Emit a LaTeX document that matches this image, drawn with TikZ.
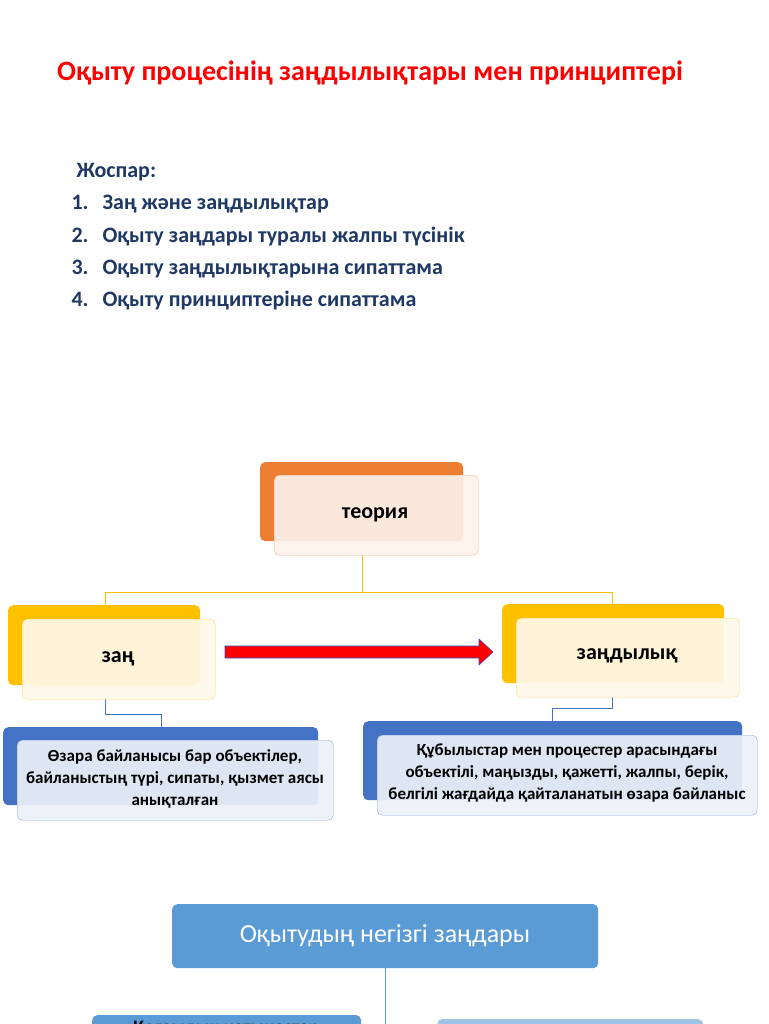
\documentclass[tikz,border=0pt]{standalone}
\usepackage{fontspec}
\setmainfont{Carlito}
\usetikzlibrary{arrows.meta}

\begin{document}
\begin{tikzpicture}[x=1pt,y=-1pt,
    backbox/.style={shape=rectangle,rounded corners=5pt,anchor=north west,inner sep=0pt},
    frontbox/.style={shape=rectangle,draw,rounded corners=5pt,anchor=north west,inner sep=0pt,fill opacity=0.92},
    boxlabel/.style={font=\bfseries\fontsize{22}{26}\selectfont},
    smalltext/.style={font=\bfseries\fontsize{17}{22}\selectfont,align=center},
    plantext/.style={anchor=west,text=plannavy,font=\bfseries\fontsize{22}{26}\selectfont}]
    \definecolor{plannavy}{RGB}{31,56,100}
    \definecolor{teoriaback}{RGB}{237,125,49}
    \definecolor{teoriafront}{RGB}{253,242,235}
    \definecolor{teorialine}{RGB}{244,177,131}
    \definecolor{zanback}{RGB}{255,192,0}
    \definecolor{zanfront}{RGB}{255,249,234}
    \definecolor{zanline}{RGB}{255,217,102}
    \definecolor{blueback}{RGB}{68,114,196}
    \definecolor{bluefront}{RGB}{236,240,248}
    \definecolor{blueline}{RGB}{143,170,220}
    \definecolor{midblue}{RGB}{91,155,213}
    \definecolor{lightblue}{RGB}{157,195,230}
    \clip (0,0) rectangle (768,1024);
    \fill[white] (0,0) rectangle (768,1024);
    % title and plan
    \node[text=red,font=\bfseries\fontsize{28}{32}\selectfont] (title) at (370,73) {Оқыту процесінің заңдылықтары мен принциптері};
    \node[plantext] (plan) at (73,172) {Жоспар:};
    \node[plantext] (p1) at (68,204) {1.\hspace{14pt}Заң және заңдылықтар};
    \node[plantext] (p2) at (68,237) {2.\hspace{14pt}Оқыту заңдары туралы жалпы түсінік};
    \node[plantext] (p3) at (68,269) {3.\hspace{14pt}Оқыту заңдылықтарына сипаттама};
    \node[plantext] (p4) at (68,301) {4.\hspace{14pt}Оқыту принциптеріне сипаттама};
    % connectors
    \draw[zanback] (362,555) -- (362,592) -- (105,592) -- (105,605);
    \draw[zanback] (362,592) -- (612,592) -- (612,604);
    \draw[blueback] (105,699) -- (105,714) -- (161,714) -- (161,727);
    \draw[blueback] (612,697) -- (612,708) -- (552,708) -- (552,721);
    % hierarchy boxes
    \node[backbox,fill=teoriaback,minimum width=203pt,minimum height=79pt] (teoriaB) at (260,462) {};
    \node[frontbox,draw=teorialine,fill=teoriafront,minimum width=204pt,minimum height=80pt] (teoria) at (274,475) {};
    \node[boxlabel] at (375,515) {теория};
    \node[backbox,fill=zanback,minimum width=192pt,minimum height=80pt] (zanB) at (8,605) {};
    \node[frontbox,draw=zanline,fill=zanfront,minimum width=193pt,minimum height=80pt] (zan) at (22,619) {};
    \node[boxlabel] at (118,659) {заң};
    \node[backbox,fill=zanback,minimum width=222pt,minimum height=79pt] (zandB) at (502,604) {};
    \node[frontbox,draw=zanline,fill=zanfront,minimum width=223pt,minimum height=79pt] (zand) at (516,618) {};
    \node[boxlabel] at (627,656) {заңдылық};
    \node[backbox,fill=blueback,minimum width=315pt,minimum height=78pt] (zandefB) at (3,727) {};
    \node[frontbox,draw=blueline,fill=bluefront,minimum width=316pt,minimum height=80pt] (zandef) at (17,740) {};
    \node[smalltext] at (175,779) {Өзара байланысы бар объектілер,\\байланыстың түрі, сипаты, қызмет аясы\\анықталған};
    \node[backbox,fill=blueback,minimum width=379pt,minimum height=79pt] (zanddefB) at (363,721) {};
    \node[frontbox,draw=blueline,fill=bluefront,minimum width=380pt,minimum height=80pt] (zanddef) at (377,735) {};
    \node[smalltext] at (567,773) {Құбылыстар мен процестер арасындағы\\объектілі, маңызды, қажетті, жалпы, берік,\\белгілі жағдайда қайталанатын өзара байланыс};
    % red arrow
    \fill[red,draw=blue!40!gray,line width=0.6pt] (225,646) -- (479,646) -- (479,639) -- (493,652) -- (479,665) -- (479,658) -- (225,658) -- cycle;
    % bottom part
    \node[backbox,fill=midblue,minimum width=426pt,minimum height=64pt] (lawsB) at (172,904) {};
    \node[text=white,font=\fontsize{26}{30}\selectfont] (laws) at (385,936) {Оқытудың негізгі заңдары};
    \draw[midblue] (385,968) -- (385,1024);
    \node[backbox,fill=midblue,minimum width=269pt,minimum height=30pt] (socB) at (92,1015) {};
    \node[font=\bfseries\fontsize{19}{22}\selectfont] (soc) at (226,1029) {Қоғамдық қатынастар};
    \node[backbox,fill=lightblue,minimum width=266pt,minimum height=30pt] (otherB) at (437,1019) {};
\end{tikzpicture}
\end{document}
